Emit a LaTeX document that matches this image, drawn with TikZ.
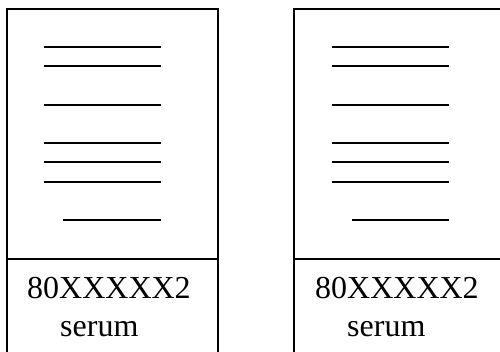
\documentclass[tikz,border=0pt]{standalone}
\usepackage{fontspec}
\setmainfont{Liberation Serif}
\begin{document}
\begin{tikzpicture}[x=1pt,y=1pt,
  frame/.style={line width=1.4pt},
  rule/.style={line width=1.4pt},
  lbl/.style={anchor=base west,inner sep=0pt,font=\fontsize{32}{36}\selectfont}]
\useasboundingbox (0,0) rectangle (500,351);
\clip (0,0) rectangle (500,351);
% left card
\draw[frame] (7,-5) -- (7,342) -- (218,342) -- (218,-5);
\draw[frame] (7,92) -- (218,92);
\foreach \y in {304,285,246,208,189,169} \draw[rule] (44,\y) -- (161,\y);
\draw[rule] (63,131) -- (161,131);
\node[lbl] (a1) at (27,53) {80XXXXX2};
\node[lbl] (a2) at (60,15) {serum};
% right card
\draw[frame] (294,-5) -- (294,342) -- (510,342);
\draw[frame] (294,92) -- (510,92);
\foreach \y in {304,285,246,208,189,169} \draw[rule] (332,\y) -- (449,\y);
\draw[rule] (352,131) -- (449,131);
\node[lbl] (b1) at (315,53) {80XXXXX2};
\node[lbl] (b2) at (347,15) {serum};
\end{tikzpicture}
\end{document}
